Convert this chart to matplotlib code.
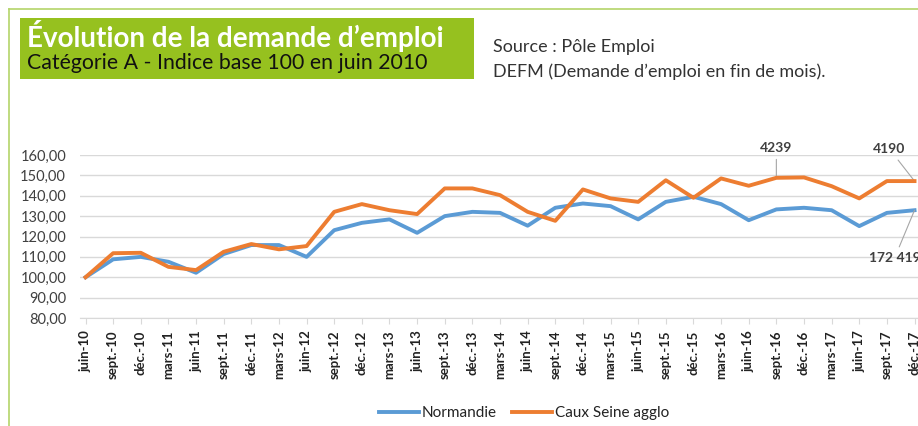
import matplotlib
matplotlib.use("Agg")
import matplotlib.pyplot as plt
from matplotlib.lines import Line2D
from matplotlib.patches import Rectangle

plt.rcParams['font.family'] = ['Lato', 'DejaVu Sans']

# quarterly points, index base 100 in june 2010
trimestres = ['juin-10', 'sept.-10', 'déc.-10', 'mars-11', 'juin-11', 'sept.-11', 'déc.-11',
              'mars-12', 'juin-12', 'sept.-12', 'déc.-12', 'mars-13', 'juin-13', 'sept.-13',
              'déc.-13', 'mars-14', 'juin-14', 'sept.-14', 'déc.-14', 'mars-15', 'juin-15',
              'sept.-15', 'déc.-15', 'mars-16', 'juin-16', 'sept.-16', 'déc.-16', 'mars-17',
              'juin-17', 'sept.-17', 'déc.-17']
normandie = [100.0, 108.8, 110.0, 107.6, 102.2, 111.4, 115.8, 115.8, 110.0, 123.1, 126.7,
             128.4, 121.8, 130.0, 132.1, 131.6, 125.3, 134.1, 136.2, 134.9, 128.4, 137.0,
             139.5, 135.9, 128.0, 133.3, 134.1, 132.9, 125.1, 131.6, 132.9]
caux_seine = [100.0, 111.8, 112.0, 105.1, 103.5, 112.5, 116.3, 113.7, 115.3, 132.1, 135.9,
              132.9, 131.0, 143.6, 143.6, 140.3, 132.1, 127.7, 143.1, 138.7, 137.0, 147.6,
              139.0, 148.5, 144.9, 148.8, 149.0, 144.7, 138.7, 147.2, 147.2]
y_ticks = [80, 90, 100, 110, 120, 130, 140, 150, 160]

blue = '#5B9BD5'
orange = '#ED7D31'
green = '#96C11F'
grey_txt = '#404040'

W, H = 918, 426
fig = plt.figure(figsize=(W / 100, H / 100), dpi=100)

# green frame lines (top + left)
fig.add_artist(Line2D([9 / W, 1], [1 - 9 / H] * 2, color='#B4D46A', lw=1.2))
fig.add_artist(Line2D([9 / W] * 2, [0, 1 - 9 / H], color='#B4D46A', lw=1.2))

# title box
fig.add_artist(Rectangle((20 / W, 1 - 79 / H), 454 / W, 61 / H, color=green, lw=0))
fig.text(27 / W, 1 - 36 / H, 'Évolution de la demande d\u2019emploi', color='white',
         fontsize=20, fontweight='bold', va='center', ha='left')
fig.text(27 / W, 1 - 63 / H, 'Catégorie A - Indice base 100 en juin 2010', color='#111111',
         fontsize=15.3, va='center', ha='left')

fig.text(493 / W, 1 - 47 / H, 'Source : Pôle Emploi', color='#333333', fontsize=13,
         va='center', ha='left')
fig.text(493 / W, 1 - 72 / H, 'DEFM (Demande d\u2019emploi en fin de mois).', color='#333333',
         fontsize=13, va='center', ha='left')

# axes: extends past right edge (chart is cropped in the source)
ax_left, ax_right = 80, 945
ax_top, ax_bot = 155, 318
ax = fig.add_axes([ax_left / W, 1 - ax_bot / H, (ax_right - ax_left) / W, (ax_bot - ax_top) / H])

x = list(range(len(trimestres)))
ax.plot(x, normandie, color=blue, lw=2.8, solid_joinstyle='round', label='Normandie', zorder=3)
ax.plot(x, caux_seine, color=orange, lw=2.8, solid_joinstyle='round', label='Caux Seine agglo', zorder=4)

ax.set_ylim(80, 160)
ax.set_xlim(-0.2, (ax_right - 85) / 27.65)
ax.set_yticks(y_ticks)
ax.set_yticklabels([f'{v:.2f}'.replace('.', ',') for v in y_ticks])
ax.set_xticks(x)
ax.set_xticklabels(trimestres, rotation=90, fontweight='bold')
ax.grid(axis='y', color='#D9D9D9', lw=1)
ax.set_axisbelow(True)
for s in ['top', 'right', 'left']:
    ax.spines[s].set_visible(False)
ax.spines['bottom'].set_color('#D9D9D9')
ax.tick_params(axis='y', length=0, labelsize=10.5, labelcolor=grey_txt, pad=10)
ax.tick_params(axis='x', length=4, color='#D9D9D9', labelsize=9.5, labelcolor='#222222', pad=5)

# data labels
ann = dict(color=grey_txt, fontsize=10, fontweight='bold', ha='center', va='center',
           textcoords='offset pixels', annotation_clip=False,
           arrowprops=dict(arrowstyle='-', color='#A6A6A6', lw=0.8, shrinkA=2, shrinkB=0))
ax.annotate('4239', xy=(25, caux_seine[25]), xytext=(0, 30), **ann)
ax.annotate('4190', xy=(30, caux_seine[30]), xytext=(-25, 32), **ann)
ax.annotate('172 419', xy=(30, normandie[30]), xytext=(-20, -48), **ann)

# legend
fig.legend(handles=[Line2D([], [], color=blue, lw=2.8), Line2D([], [], color=orange, lw=2.8)],
           labels=['Normandie', 'Caux Seine agglo'], loc='center', ncol=2,
           bbox_to_anchor=(524 / W, 1 - 413 / H), frameon=False, fontsize=11,
           handlelength=2.6, handletextpad=0.2, columnspacing=1.0, labelcolor='#222222')

fig.savefig('out.png', dpi=100)
